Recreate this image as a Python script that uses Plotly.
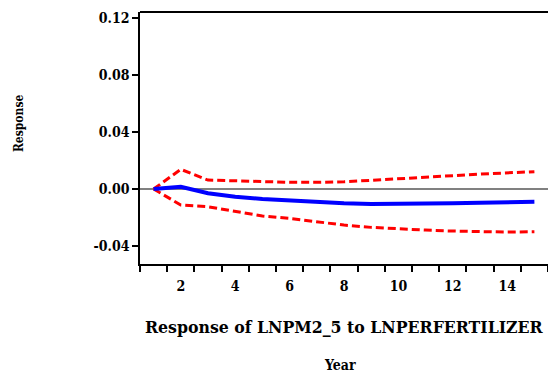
import plotly.graph_objects as go

periods = list(range(1, 16))
response = [0.0, 0.0016, -0.0030, -0.0054, -0.0070, -0.0082, -0.0093, -0.0100,
            -0.0105, -0.0105, -0.0103, -0.0100, -0.0096, -0.0093, -0.0089]
upper = [0.0, 0.0138, 0.0063, 0.0056, 0.0050, 0.0047, 0.0047, 0.0051,
         0.0061, 0.0073, 0.0087, 0.0094, 0.0105, 0.0115, 0.0122]
lower = [0.0, -0.0112, -0.0124, -0.0154, -0.0189, -0.0206, -0.0229, -0.0253,
         -0.0269, -0.0281, -0.0288, -0.0295, -0.0300, -0.0302, -0.0300]
y_ticks = [-0.04, 0.0, 0.04, 0.08, 0.12]
y_labels = ["-0.04", "0.00", "0.04", "0.08", "0.12"]
x_ticks = [2, 4, 6, 8, 10, 12, 14]

font = "DejaVu Serif Condensed, DejaVu Serif"

fig = go.Figure()
fig.add_trace(go.Scatter(x=periods, y=upper, mode="lines",
                         line=dict(color="#ff0000", width=3, dash="8px,4px")))
fig.add_trace(go.Scatter(x=periods, y=lower, mode="lines",
                         line=dict(color="#ff0000", width=3, dash="8px,4px")))
fig.add_trace(go.Scatter(x=periods, y=response, mode="lines",
                         line=dict(color="#0000ff", width=4)))

fig.update_layout(
    width=548, height=376,
    margin=dict(l=140, r=0, t=12, b=112),
    paper_bgcolor="white", plot_bgcolor="white",
    showlegend=False,
    font=dict(family=font, color="black"),
    xaxis=dict(
        range=[0.5, 15.5], showgrid=False, zeroline=False,
        showline=True, linecolor="black", linewidth=1.5,
        tickmode="array", tickvals=x_ticks, ticks="", ticklabelstandoff=8,
        tickfont=dict(family=font, size=14, color="black", weight="bold"),
        minor=dict(tickmode="linear", tick0=0.5, dtick=1, ticks="outside",
                   ticklen=6, tickwidth=1.5, tickcolor="black", showgrid=False),
    ),
    yaxis=dict(
        range=[-0.0526, 0.1242], showgrid=False,
        zeroline=True, zerolinecolor="#808080", zerolinewidth=1.5,
        showline=True, linecolor="black", linewidth=1.5,
        tickmode="array", tickvals=y_ticks, ticktext=y_labels,
        ticks="outside", ticklen=6, tickwidth=1.5, tickcolor="black",
        tickfont=dict(family=font, size=14, color="black", weight="bold"),
    ),
    shapes=[dict(type="line", xref="paper", yref="paper", x0=0, x1=1, y0=1, y1=1,
                 line=dict(color="black", width=2))],
    annotations=[
        dict(text="Response of LNPM2_5 to LNPERFERTILIZER", xref="paper", yref="paper",
             x=0.5, y=-0.25, yanchor="middle", showarrow=False,
             font=dict(family=font, size=17.5, color="black", weight="bold")),
        dict(text="Year", xref="paper", yref="paper",
             x=0.49, y=-0.40, yanchor="middle", showarrow=False,
             font=dict(family=font, size=14, color="black", weight="bold")),
        dict(text="Response", xref="paper", yref="paper", textangle=-90,
             x=-0.296, xanchor="center", y=0.56, yanchor="middle", showarrow=False,
             font=dict(family=font, size=12, color="black", weight="bold")),
    ],
)

fig.write_html("out.html")
